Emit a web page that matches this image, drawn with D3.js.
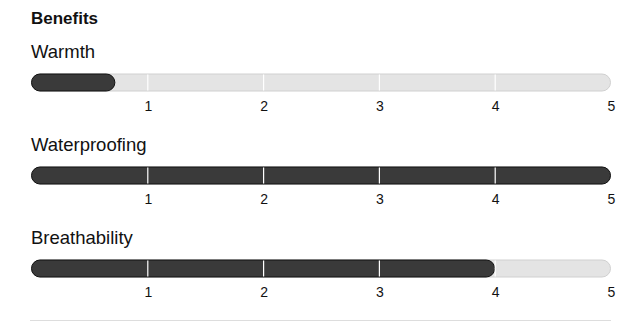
<!DOCTYPE html>
<html lang="en">
<head>
    <meta charset="UTF-8">
    <title>Benefits</title>
    <script src="https://d3js.org/d3.v7.min.js"></script>
    <style>
        body { margin: 0; background: #fff; font-family: "Liberation Sans", Arial, sans-serif; }
        .track { fill: #e4e4e4; stroke: #d0d0d0; stroke-width: 1px; }
        .fill { fill: #3a3a3a; stroke: #111; stroke-width: 1px; }
        .tickline { stroke: #fff; stroke-width: 1.2px; }
        .axis text { font-size: 14px; fill: #111; font-family: "Liberation Sans", Arial, sans-serif; }
    </style>
</head>
<body>
<div id="chart"></div>
<script>
    // benefit ratings, scale 0..5
    var categories = ["Warmth", "Waterproofing", "Breathability"];
    var values = [0.72, 5, 4];
    var ticks = [1, 2, 3, 4, 5];

    var width = 638, height = 321;
    var rowTop = 40, rowStep = 93, barOffset = 34, barH = 17;

    var svg = d3.select("#chart").append("svg")
        .attr("width", width)
        .attr("height", height);

    var x = d3.scaleLinear().domain([0, 5]).range([32, 611]);

    svg.append("text")
        .attr("x", 31).attr("y", 24)
        .attr("font-size", "17px").attr("font-weight", "bold")
        .attr("fill", "#111")
        .text("Benefits");

    var rows = svg.selectAll(".row")
        .data(categories)
        .enter().append("g")
        .attr("class", "row")
        .attr("transform", function(d, i) { return "translate(0," + (rowTop + i * rowStep) + ")"; });

    rows.append("text")
        .attr("x", 31).attr("y", 18)
        .attr("font-size", "18.5px")
        .attr("fill", "#111")
        .text(function(d) { return d; });

    // background track
    rows.append("rect")
        .attr("class", "track")
        .attr("x", x(0) - 0.5)
        .attr("y", barOffset)
        .attr("width", x(5) - x(0))
        .attr("height", barH)
        .attr("rx", barH / 2);

    // value bar
    rows.append("rect")
        .attr("class", "fill")
        .attr("x", x(0) - 0.5)
        .attr("y", barOffset)
        .attr("width", function(d, i) { return x(values[i]) - x(0); })
        .attr("height", barH)
        .attr("rx", barH / 2);

    // white tick separators inside the bar
    rows.selectAll(".tickline")
        .data(ticks.slice(0, -1))
        .enter().append("line")
        .attr("class", "tickline")
        .attr("x1", function(d) { return x(d); })
        .attr("x2", function(d) { return x(d); })
        .attr("y1", barOffset + 0.5)
        .attr("y2", barOffset + barH - 0.5);

    rows.append("g")
        .attr("class", "axis")
        .attr("transform", "translate(0," + (barOffset + barH) + ")")
        .call(d3.axisBottom(x).tickValues(ticks).tickSize(0).tickPadding(10).tickFormat(d3.format("d")))
        .call(function(g) { g.select(".domain").remove(); });

    svg.append("line")
        .attr("x1", 30).attr("x2", 611)
        .attr("y1", 320.5).attr("y2", 320.5)
        .attr("stroke", "#ddd");
</script>
</body>
</html>
